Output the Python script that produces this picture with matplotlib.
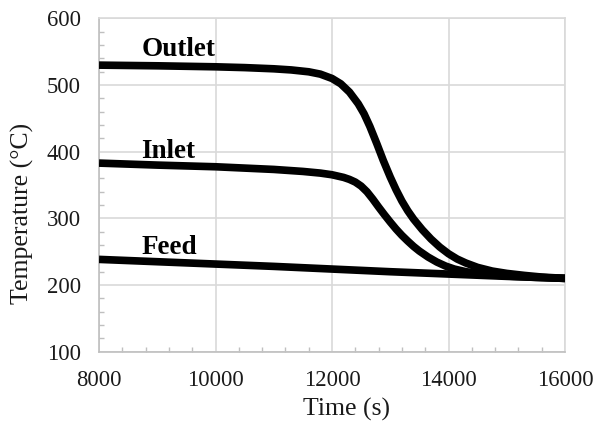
import matplotlib
matplotlib.use("Agg")
import matplotlib.pyplot as plt
from matplotlib.ticker import MultipleLocator

# Temperature histories (time in s, temperature in degC)
outlet_t = [8000, 9000, 10000, 10500, 11000, 11300, 11600, 11800, 12000, 12150,
            12300, 12450, 12550, 12650, 12770, 12880, 13000, 13100, 13200, 13300,
            13400, 13550, 13700, 13850, 14000, 14150, 14300, 14500, 14750, 15000,
            15300, 15600, 16000]
outlet_T = [530, 529, 527.5, 526.3, 524.5, 522.8, 520, 516.5, 510, 502,
            489.5, 472, 457, 438, 412, 387, 362, 343, 326, 311.5,
            299, 283, 269, 257, 247, 239, 233, 226.5, 221, 217.5,
            214.5, 212, 210]

inlet_t = [8000, 9000, 10000, 11000, 11500, 11800, 12000, 12200, 12300, 12400,
           12500, 12600, 12700, 12800, 12900, 13000, 13100, 13200, 13300, 13400,
           13500, 13650, 13800, 13950, 14100, 14300, 14600, 15000, 15500, 16000]
inlet_T = [383, 380, 377.5, 373.5, 370.5, 368, 365.5, 361.5, 358.5, 354.5,
           348.5, 340, 329, 317, 305.5, 294.5, 284, 274.5, 266, 258,
           251, 242, 234.5, 228.5, 224, 220, 216.5, 213.5, 211.5, 210]

feed_t = [8000, 9000, 10000, 11000, 12000, 13000, 14000, 15000, 16000]
feed_T = [238.5, 235, 231.5, 228, 224, 220, 216.5, 213, 210]

series_labels = ["Outlet", "Inlet", "Feed"]
label_pos = [(8730, 543), (8730, 390), (8730, 246)]

plt.rcParams["font.family"] = ["Liberation Serif", "DejaVu Serif"]

fig = plt.figure(figsize=(5.98, 4.25), dpi=100)
ax = fig.add_axes([0.1656, 0.1725, 0.7792, 0.784])

grid_c = "#d9d9d9"
axis_c = "#bfbfbf"
text_c = "#1a1a1a"

for t, T in ((outlet_t, outlet_T), (inlet_t, inlet_T), (feed_t, feed_T)):
    ax.plot(t, T, color="black", lw=5.5, solid_capstyle="butt",
            solid_joinstyle="round", zorder=3)

for name, (x, y) in zip(series_labels, label_pos):
    ax.text(x, y, name, fontsize=19.5, fontweight="bold", ha="left",
            va="baseline", color="black", zorder=4)

ax.set_xlim(8000, 16000)
ax.set_ylim(100, 600)
ax.xaxis.set_major_locator(MultipleLocator(2000))
ax.xaxis.set_minor_locator(MultipleLocator(400))
ax.yaxis.set_major_locator(MultipleLocator(100))
ax.yaxis.set_minor_locator(MultipleLocator(20))

ax.grid(True, which="major", color=grid_c, lw=1.2, zorder=0)
ax.set_axisbelow(True)

for side in ("top", "right"):
    ax.spines[side].set_color(grid_c)
    ax.spines[side].set_linewidth(1.2)
for side in ("left", "bottom"):
    ax.spines[side].set_color(axis_c)
    ax.spines[side].set_linewidth(1.2)

ax.tick_params(which="major", length=0, labelsize=16.3, colors=text_c)
ax.tick_params(axis="x", which="major", pad=13)
ax.tick_params(axis="y", which="major", pad=13)
ax.tick_params(which="minor", direction="in", length=3.5, width=1, color=axis_c)

fig.text(0.5786, 0.0376, "Time (s)", fontsize=18.5, color=text_c,
         ha="center", va="center")
fig.text(0.0368, 0.4988, "Temperature (\u00b0C)", fontsize=18.5, color=text_c,
         ha="center", va="center", rotation=90)

fig.savefig("out.png", dpi=100)
